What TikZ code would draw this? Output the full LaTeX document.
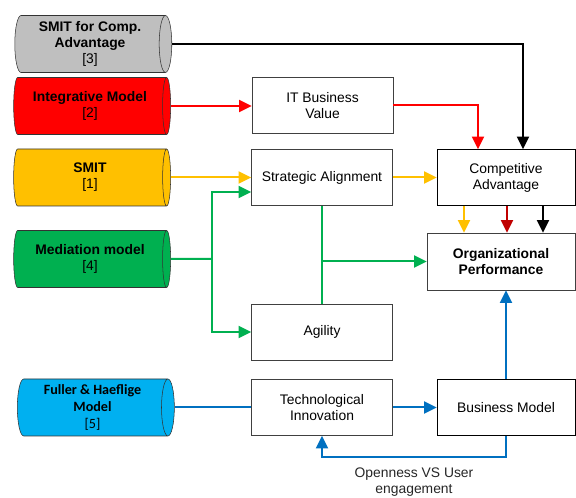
\documentclass[tikz,border=0pt]{standalone}
\usepackage{fontspec}
\setmainfont{Liberation Sans}
\newfontfamily\calibrifont{Carlito}
\usetikzlibrary{positioning,arrows.meta,shapes.geometric}
\definecolor{modelgray}{RGB}{191,191,191}
\definecolor{modelred}{RGB}{255,0,0}
\definecolor{modelyellow}{RGB}{255,192,0}
\definecolor{modelgreen}{RGB}{0,176,80}
\definecolor{modelblue}{RGB}{0,176,240}
\definecolor{linkblue}{RGB}{0,112,192}
\definecolor{linkdarkred}{RGB}{192,0,0}
\tikzset{
  model/.style={cylinder, shape border rotate=0, aspect=0.28, draw=black!80,
    minimum height=117.75pt, minimum width=42.75pt, inner sep=0pt,
    align=center, font=\fontsize{10.4}{12}\selectfont},
  block/.style={draw=black!75, fill=white, minimum width=105.75pt,
    minimum height=42pt, inner sep=0pt, align=center,
    font=\fontsize{10.4}{12}\selectfont},
  link/.style={line width=1.5pt, -{Triangle[length=9.5pt,width=9pt]}},
}

\begin{document}
\begin{tikzpicture}[x=0.75pt, y=-0.75pt]
  \useasboundingbox (0,0) rectangle (576,498);
  % source models
  \node[model, fill=modelgray] (smitca) at (90,44) {\textbf{SMIT for Comp.}\\\textbf{Advantage}\\{[3]}};
  \node[model, fill=modelred] (integr) at (90,106) {\textbf{Integrative Model}\\{[2]}};
  \node[model, fill=modelyellow] (smit) at (90,177.5) {\textbf{SMIT}\\{[1]}};
  \node[model, fill=modelgreen] (mediat) at (90,259) {\textbf{Mediation model}\\{[4]}};
  \node[model, fill=modelblue, font=\calibrifont\fontsize{10.6}{12.75}\selectfont] (fuller) at (92.5,407.5)
    {\textbf{Fuller \& Haeflige}\\\textbf{Model}\\{[5]}};
  % constructs
  \node[block] (itbv) at (322.5,105.5) {IT Business\\Value};
  \node[block] (align) at (322,177.5) {Strategic Alignment};
  \node[block] (agility) at (322,332) {Agility};
  \node[block] (techinno) at (322,407.5) {Technological\\Innovation};
  \node[block, draw=black, minimum width=103.5pt] (compadv) at (506,177.5) {Competitive\\Advantage};
  \node[block, minimum width=111pt, minimum height=42.75pt] (orgperf) at (501,261.5)
    {\textbf{Organizational}\\\textbf{Performance}};
  \node[block, draw=black, minimum width=103.5pt] (bizmodel) at (506,407.5) {Business Model};
  % links
  \draw[link, black] (smitca.east) -| ([xshift=12.75pt]compadv.north);
  \draw[link, modelred] (integr.east) -- (integr.east -| itbv.west);
  \draw[link, modelred] (itbv.east) -| ([xshift=-21pt]compadv.north);
  \draw[link, modelyellow] (smit.east) -- (smit.east -| align.west);
  \draw[link, modelyellow] (align.east) -- (compadv.west);
  \coordinate (gsplit) at (212,259);
  \draw[line width=1.5pt, modelgreen] (mediat.east) -- (gsplit);
  \draw[link, modelgreen] (gsplit) |- ([yshift=-10.9pt]align.west);
  \draw[link, modelgreen] (gsplit) |- (agility.west);
  \draw[line width=1.5pt, modelgreen] (align.south) -- (agility.north);
  \draw[link, modelgreen] (align.south |- orgperf.west) -- (orgperf.west);
  \draw[link, modelyellow] ([xshift=-31.5pt]compadv.south) -- ([xshift=-31.5pt]compadv.south |- orgperf.north);
  \draw[link, linkdarkred] ([xshift=0.75pt]compadv.south) -- ([xshift=0.75pt]compadv.south |- orgperf.north);
  \draw[link, black] ([xshift=27.75pt]compadv.south) -- ([xshift=27.75pt]compadv.south |- orgperf.north);
  \draw[line width=1.5pt, linkblue] (fuller.east) -- (fuller.east -| techinno.west);
  \draw[link, linkblue] (techinno.east) -- (bizmodel.west);
  \draw[link, linkblue] (bizmodel.north) -- (bizmodel.north |- orgperf.south);
  \draw[link, linkblue] (bizmodel.south) -- ++(0,21) -| (techinno.south)
    node[pos=0.25, below=4pt, align=center, text=black!85, font=\fontsize{10.4}{12}\selectfont] (openlabel)
    {Openness VS User\\engagement};
\end{tikzpicture}
\end{document}
